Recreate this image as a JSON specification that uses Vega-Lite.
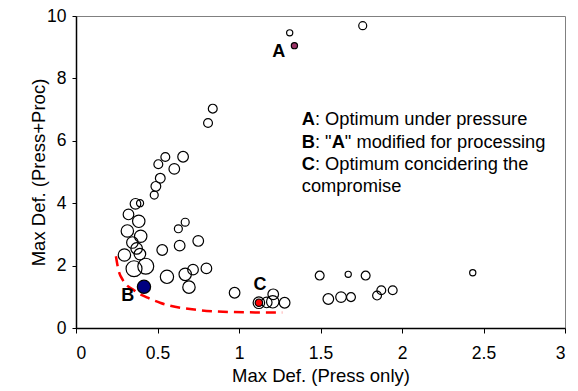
{
  "$schema": "https://vega.github.io/schema/vega-lite/v6.json",
  "autosize": {"type": "none"},
  "width": 489,
  "height": 312,
  "padding": {"left": 76, "top": 16, "right": 13, "bottom": 63},
  "background": "white",
  "config": {
    "font": "Liberation Sans",
    "view": {"stroke": "#808080", "strokeWidth": 1},
    "axis": {"grid": false, "domainColor": "black", "domainWidth": 1.5, "tickColor": "black", "labelColor": "black", "titleColor": "black", "labelFont": "Liberation Sans", "titleFont": "Liberation Sans", "titleFontWeight": "normal", "labelFontSize": 17.5, "titleFontSize": 18.5}
  },
  "datasets": {
    "pts": [
      {"x": 1.759, "y": 9.69, "r": 4.5}, {"x": 1.311, "y": 9.46, "r": 3.5},
      {"x": 0.839, "y": 7.03, "r": 5}, {"x": 0.81, "y": 6.57, "r": 5},
      {"x": 0.548, "y": 5.48, "r": 5}, {"x": 0.657, "y": 5.49, "r": 6},
      {"x": 0.505, "y": 5.25, "r": 5}, {"x": 0.603, "y": 5.1, "r": 6},
      {"x": 0.517, "y": 4.8, "r": 5.5}, {"x": 0.49, "y": 4.54, "r": 5.5},
      {"x": 0.48, "y": 4.26, "r": 4.5}, {"x": 0.365, "y": 3.98, "r": 6},
      {"x": 0.393, "y": 4.0, "r": 4}, {"x": 0.322, "y": 3.64, "r": 6},
      {"x": 0.385, "y": 3.42, "r": 7}, {"x": 0.315, "y": 3.11, "r": 7},
      {"x": 0.397, "y": 2.94, "r": 7}, {"x": 0.346, "y": 2.74, "r": 6.5},
      {"x": 0.372, "y": 2.55, "r": 6.5}, {"x": 0.392, "y": 2.37, "r": 6.5},
      {"x": 0.297, "y": 2.34, "r": 7}, {"x": 0.356, "y": 1.9, "r": 9},
      {"x": 0.428, "y": 1.98, "r": 9}, {"x": 0.529, "y": 2.5, "r": 6},
      {"x": 0.558, "y": 1.64, "r": 7.5}, {"x": 0.628, "y": 3.18, "r": 4.5},
      {"x": 0.67, "y": 3.39, "r": 4.5}, {"x": 0.636, "y": 2.64, "r": 6},
      {"x": 0.75, "y": 2.79, "r": 6}, {"x": 0.67, "y": 1.72, "r": 7},
      {"x": 0.718, "y": 1.87, "r": 6}, {"x": 0.8, "y": 1.91, "r": 6},
      {"x": 0.693, "y": 1.31, "r": 7}, {"x": 0.973, "y": 1.13, "r": 6},
      {"x": 1.21, "y": 1.08, "r": 6}, {"x": 1.207, "y": 0.84, "r": 7},
      {"x": 1.28, "y": 0.81, "r": 6}, {"x": 1.17, "y": 0.82, "r": 6},
      {"x": 1.495, "y": 1.68, "r": 5}, {"x": 1.67, "y": 1.72, "r": 3.5},
      {"x": 1.777, "y": 1.68, "r": 5}, {"x": 1.548, "y": 0.93, "r": 6},
      {"x": 1.626, "y": 0.99, "r": 6}, {"x": 1.687, "y": 0.99, "r": 5},
      {"x": 1.847, "y": 1.04, "r": 5}, {"x": 1.873, "y": 1.21, "r": 5},
      {"x": 1.943, "y": 1.21, "r": 5}, {"x": 2.434, "y": 1.77, "r": 3.5},
      {"x": 1.122, "y": 0.81, "r": 6.5}
    ],
    "special": [
      {"name": "A", "x": 1.34, "y": 9.05, "r": 3.5},
      {"name": "B", "x": 0.417, "y": 1.32, "r": 7.5},
      {"name": "C", "x": 1.122, "y": 0.81, "r": 4.2}
    ],
    "curve": [
      {"i": 1, "x": 0.245, "y": 2.3}, {"i": 2, "x": 0.26, "y": 1.87},
      {"i": 3, "x": 0.286, "y": 1.55}, {"i": 4, "x": 0.358, "y": 1.2},
      {"i": 5, "x": 0.44, "y": 0.97}, {"i": 6, "x": 0.52, "y": 0.8},
      {"i": 7, "x": 0.726, "y": 0.59}, {"i": 8, "x": 0.87, "y": 0.53},
      {"i": 9, "x": 1.115, "y": 0.5}, {"i": 10, "x": 1.265, "y": 0.5}
    ],
    "letters": [
      {"t": "A", "x": 1.244, "y": 8.86},
      {"t": "B", "x": 0.317, "y": 1.02},
      {"t": "C", "x": 1.129, "y": 1.39}
    ],
    "boldtext": [
      {"t": "A", "x": 1.385, "y": 6.656},
      {"t": "B", "x": 1.385, "y": 5.936},
      {"t": "A", "x": 1.5683, "y": 5.936},
      {"t": "C", "x": 1.385, "y": 5.232}
    ],
    "plaintext": [
      {"t": ": Optimum under pressure", "x": 1.466, "y": 6.656},
      {"t": ": \"", "x": 1.466, "y": 5.936},
      {"t": "\" modified for processing", "x": 1.6494, "y": 5.936},
      {"t": ": Optimum concidering the", "x": 1.466, "y": 5.232},
      {"t": "compromise", "x": 1.385, "y": 4.512}
    ]
  },
  "layer": [
    {
      "data": {"name": "curve"},
      "mark": {"type": "line", "color": "#FF0000", "strokeWidth": 2.5, "strokeDash": [10, 6], "interpolate": "monotone"},
      "encoding": {
        "x": {"field": "x", "type": "quantitative", "scale": {"domain": [0, 3]},
              "axis": {"title": "Max Def. (Press only)", "values": [0, 0.5, 1, 1.5, 2, 2.5, 3], "format": "~g", "tickSize": 5, "labelPadding": 11, "titleY": 47, "titleBaseline": "middle"}},
        "y": {"field": "y", "type": "quantitative", "scale": {"domain": [0, 10]},
              "axis": {"title": "Max Def. (Press+Proc)", "values": [0, 2, 4, 6, 8, 10], "tickSize": 4, "labelPadding": 6, "titleX": -38, "titleBaseline": "middle"}},
        "order": {"field": "i", "type": "quantitative"}
      }
    },
    {
      "data": {"name": "pts"},
      "mark": {"type": "point", "shape": "circle", "filled": false, "stroke": "black", "strokeWidth": 1.2, "opacity": 1},
      "encoding": {
        "x": {"field": "x", "type": "quantitative"},
        "y": {"field": "y", "type": "quantitative"},
        "size": {"field": "r", "type": "quantitative", "scale": {"type": "pow", "exponent": 2, "domain": [0, 10], "range": [0, 314]}, "legend": null}
      }
    },
    {
      "data": {"name": "special"},
      "mark": {"type": "point", "shape": "circle", "filled": true, "stroke": "black", "strokeWidth": 1.2, "opacity": 1},
      "encoding": {
        "x": {"field": "x", "type": "quantitative"},
        "y": {"field": "y", "type": "quantitative"},
        "fill": {"field": "name", "type": "nominal", "scale": {"domain": ["A", "B", "C"], "range": ["#993366", "#000080", "#FF0000"]}, "legend": null},
        "size": {"field": "r", "type": "quantitative", "scale": {"type": "pow", "exponent": 2, "domain": [0, 10], "range": [0, 314]}, "legend": null}
      }
    },
    {
      "data": {"name": "letters"},
      "mark": {"type": "text", "fontWeight": "bold", "fontSize": 18, "color": "black", "align": "center", "baseline": "middle"},
      "encoding": {
        "x": {"field": "x", "type": "quantitative"},
        "y": {"field": "y", "type": "quantitative"},
        "text": {"field": "t"}
      }
    },
    {
      "data": {"name": "boldtext"},
      "mark": {"type": "text", "fontWeight": "bold", "fontSize": 18.3, "color": "black", "align": "left", "baseline": "middle"},
      "encoding": {
        "x": {"field": "x", "type": "quantitative"},
        "y": {"field": "y", "type": "quantitative"},
        "text": {"field": "t"}
      }
    },
    {
      "data": {"name": "plaintext"},
      "mark": {"type": "text", "fontSize": 18.3, "color": "black", "align": "left", "baseline": "middle"},
      "encoding": {
        "x": {"field": "x", "type": "quantitative"},
        "y": {"field": "y", "type": "quantitative"},
        "text": {"field": "t"}
      }
    }
  ]
}
